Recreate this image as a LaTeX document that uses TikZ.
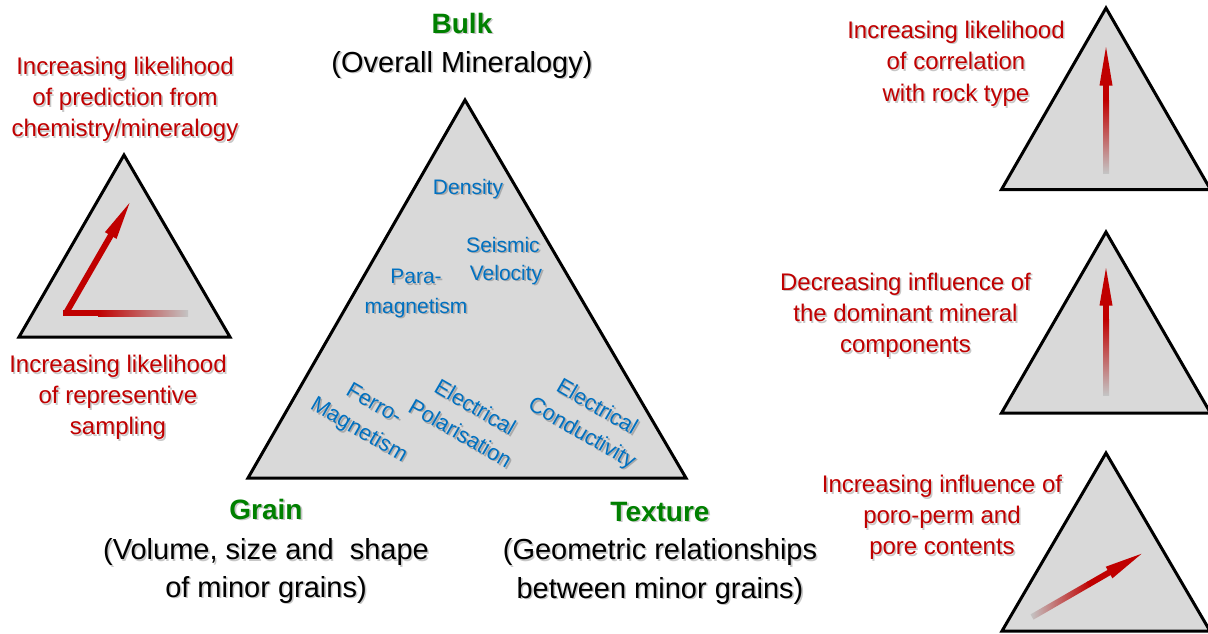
\documentclass[tikz,border=0pt]{standalone}
\usepackage{fontspec}
\setmainfont{Liberation Sans}
\usetikzlibrary{calc}
\definecolor{myred}{HTML}{C00000}
\definecolor{mygreen}{HTML}{008000}
\definecolor{myblue}{HTML}{0070C0}
\definecolor{trifill}{HTML}{D9D9D9}
\definecolor{fadegray}{HTML}{C4C4C4}
\newcommand{\shtext}[4]{%
  \node[#3,text=black,text opacity=0.22] (#1-s) at ($(#2)+(1.6,1.6)$) {#4};
  \node[#3] (#1) at (#2) {#4};}
\tikzset{
  tri/.style={draw=black, line width=3pt, fill=trifill, line join=miter},
  txtbase/.style={inner sep=0pt, anchor=base},
  redtxt/.style={txtbase, font=\fontsize{24}{31}\selectfont, text=myred},
  greentxt/.style={txtbase, font=\fontsize{28}{34}\selectfont\bfseries, text=mygreen},
  blacktxt/.style={txtbase, font=\fontsize{29}{37}\selectfont, text=black},
  bluetxt/.style={txtbase, font=\fontsize{21}{28}\selectfont, text=myblue},
  bluerot/.style={inner sep=0pt, font=\fontsize{22}{30}\selectfont, text=myblue, align=center, rotate=-30},
}
\begin{document}
\begin{tikzpicture}[x=1pt,y=-1pt]
\useasboundingbox (0,0) rectangle (1208,633);
% triangles
\draw[tri] (465,100) -- (248,478) -- (686,478) -- cycle;
\draw[tri] (124,155) -- (19,337) -- (230,337) -- cycle;
\draw[tri] (1106,8) -- (1001.5,189.5) -- (1210.5,189.5) -- cycle;
\draw[tri] (1106,232) -- (1001.5,413) -- (1210.5,413) -- cycle;
\draw[tri] (1106,453) -- (1002,631) -- (1210,631) -- cycle;
% left arrow
\fill[myred] (63,310) rectangle (99,316);
\shade[left color=myred, right color=fadegray] (98,310) rectangle (188,316);
\begin{scope}[shift={(66,313)}, rotate=60]
  \fill[myred] (0,-3) rectangle (90,3);
  \fill[myred] (89.5,-6.7) -- (127,0) -- (89.5,6.7) -- cycle;
\end{scope}
% top right arrow
\fill[myred] (1103,85) rectangle (1109,101);
\shade[top color=myred, bottom color=fadegray] (1103,100) rectangle (1109,173);
\fill[myred] (1099.5,85.5) -- (1106,47) -- (1112.5,85.5) -- cycle;
% middle right arrow
\fill[myred] (1103,304) rectangle (1109,320);
\shade[top color=myred, bottom color=fadegray] (1103,319) rectangle (1109,395);
\fill[myred] (1099.5,305.5) -- (1106,268) -- (1112.5,305.5) -- cycle;
% bottom right arrow
\begin{scope}[shift={(1032,617)}, rotate=30]
  \shade[left color=fadegray, right color=myred] (0,-3) rectangle (66,3);
  \fill[myred] (65,-3) rectangle (90,3);
  \fill[myred] (89,-6.7) -- (126.5,0) -- (89,6.7) -- cycle;
\end{scope}
% texts
\shtext{bulk}{462,33}{greentxt}{Bulk}
\shtext{bulkd}{462,72}{blacktxt}{(Overall Mineralogy)}
\shtext{lt1}{125,74.5}{redtxt}{Increasing likelihood}
\shtext{lt2}{125,105.5}{redtxt}{of prediction from}
\shtext{lt3}{125,136.5}{redtxt}{chemistry/mineralogy}
\shtext{lb1}{118,372.5}{redtxt}{Increasing likelihood}
\shtext{lb2}{118,403.5}{redtxt}{of representive}
\shtext{lb3}{118,434.5}{redtxt}{sampling}
\shtext{grain}{266,519}{greentxt}{Grain}
\shtext{grain1}{266,559.5}{blacktxt}{(Volume, size and\ \ shape}
\shtext{grain2}{266,597}{blacktxt}{of minor grains)}
\shtext{tex}{660,521}{greentxt}{Texture}
\shtext{tex1}{660,559.5}{blacktxt}{(Geometric relationships}
\shtext{tex2}{660,598}{blacktxt}{between minor grains)}
\shtext{rt1}{956,38}{redtxt}{Increasing likelihood}
\shtext{rt2}{956,69.5}{redtxt}{of correlation}
\shtext{rt3}{956,101.5}{redtxt}{with rock type}
\shtext{rm1}{905.5,290}{redtxt}{Decreasing influence of}
\shtext{rm2}{905.5,321.5}{redtxt}{the dominant mineral}
\shtext{rm3}{905.5,352.5}{redtxt}{components}
\shtext{rb1}{942,492.5}{redtxt}{Increasing influence of}
\shtext{rb2}{942,523.5}{redtxt}{poro-perm and}
\shtext{rb3}{942,554.5}{redtxt}{pore contents}
\shtext{dens}{468,194}{bluetxt}{Density}
\shtext{seis1}{503,252}{bluetxt}{Seismic}
\shtext{seis2}{506,280}{bluetxt}{Velocity}
\shtext{para1}{416,283.5}{bluetxt}{Para-}
\shtext{para2}{416,313}{bluetxt}{magnetism}
\shtext{ferro}{366,418}{bluerot}{Ferro-\\Magnetism}
\shtext{pol}{468,420}{bluerot}{Electrical\\Polarisation}
\shtext{cond}{589,421}{bluerot}{Electrical\\Conductivity}
\end{tikzpicture}
\end{document}
